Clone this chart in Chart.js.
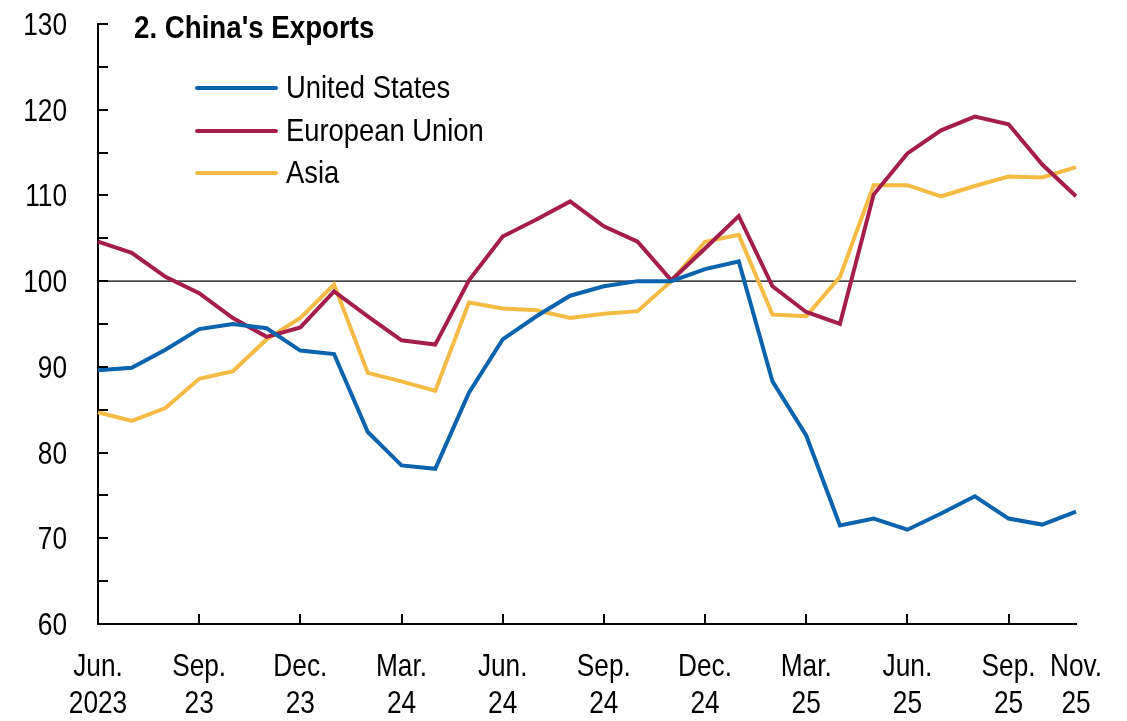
<!DOCTYPE html>
<html>
<head>
<meta charset="utf-8">
<script src="https://cdn.jsdelivr.net/npm/chart.js@4"></script>
<style>
  body { margin: 0; background: #fff; }
  #wrap { position: relative; width: 1127px; height: 721px; }
  #chart { position: absolute; left: 0; top: 0; }
  .title {
    position: absolute; left: 134px; top: 9px; line-height: 32px;
    font: bold 32px "Liberation Sans", Arial, sans-serif;
    color: #000; white-space: nowrap;
    transform: scaleX(0.865); transform-origin: left center;
  }
  .legend { position: absolute; left: 195px; top: 67px; }
  .legend .row { height: 42.5px; display: flex; align-items: center; }
  .legend .swatch { width: 83px; height: 4px; border-radius: 2px; margin-right: 8px; flex: none; }
  .legend .txt {
    font: 32px "Liberation Sans", Arial, sans-serif; line-height: 32px;
    color: #000; white-space: nowrap; position: relative; top: -1px;
    transform: scaleX(0.855); transform-origin: left center;
  }
</style>
</head>
<body>
<div id="wrap">
  <canvas id="chart" width="1127" height="721"></canvas>
  <div class="title">2. China's Exports</div>
  <div class="legend" id="legend"></div>
</div>
<script>
var FONT = '32px "Liberation Sans", Arial, sans-serif';
var NARROW = 0.82; // fake Arial Narrow

// monthly, Jun. 2023 - Nov. 2025
var categories = [
  "Jun. 2023", "Jul. 23", "Aug. 23", "Sep. 23", "Oct. 23", "Nov. 23",
  "Dec. 23", "Jan. 24", "Feb. 24", "Mar. 24", "Apr. 24", "May 24",
  "Jun. 24", "Jul. 24", "Aug. 24", "Sep. 24", "Oct. 24", "Nov. 24",
  "Dec. 24", "Jan. 25", "Feb. 25", "Mar. 25", "Apr. 25", "May 25",
  "Jun. 25", "Jul. 25", "Aug. 25", "Sep. 25", "Oct. 25", "Nov. 25"
];
var labelledMonths = [
  "Jun. 2023", "Sep. 23", "Dec. 23", "Mar. 24", "Jun. 24", "Sep. 24",
  "Dec. 24", "Mar. 25", "Jun. 25", "Sep. 25", "Nov. 25"
];
var tickMarkMonths = [
  "Sep. 23", "Dec. 23", "Mar. 24", "Jun. 24", "Sep. 24",
  "Dec. 24", "Mar. 25", "Jun. 25", "Sep. 25"
];

var unitedStates = [
  89.6, 89.9, 92.0, 94.4, 95.0, 94.5, 91.9, 91.5, 82.4, 78.5, 78.1, 87.0,
  93.2, 95.9, 98.3, 99.4, 100.0, 100.0, 101.4, 102.3, 88.3, 82.0, 71.5, 72.3,
  71.0, 72.9, 74.9, 72.3, 71.6, 73.1
];
var europeanUnion = [
  104.6, 103.3, 100.5, 98.6, 95.7, 93.5, 94.6, 98.8, 95.9, 93.1, 92.6, 100.1,
  105.2, 107.2, 109.3, 106.4, 104.6, 100.1, 103.8, 107.6, 99.4, 96.4, 95.0, 110.1,
  114.9, 117.6, 119.2, 118.3, 113.6, 109.9
];
var asia = [
  84.7, 83.7, 85.2, 88.6, 89.5, 93.2, 95.7, 99.6, 89.3, 88.3, 87.2, 97.5,
  96.8, 96.6, 95.7, 96.2, 96.5, 100.0, 104.6, 105.4, 96.1, 95.9, 100.5, 111.2,
  111.2, 109.9, 111.1, 112.2, 112.1, 113.3
];

var seriesNames = ["United States", "European Union", "Asia"];
var seriesColors = ["#0a63ad", "#a51d4b", "#f6bb45"];
var yMin = 60, yMax = 130, yStep = 5, yLabelStep = 10, refValue = 100;

function narrowText(ctx, text, x, y, align) {
  ctx.save();
  ctx.translate(x, y);
  ctx.scale(NARROW, 1);
  ctx.textAlign = align;
  ctx.textBaseline = "alphabetic";
  ctx.fillText(text, 0, 0);
  ctx.restore();
}

// inward tick marks, narrow tick labels, 100 reference line
var axisMarks = {
  id: "axisMarks",
  beforeDatasetsDraw: function (chart) {
    var ctx = chart.ctx, a = chart.chartArea;
    var y = chart.scales.y.getPixelForValue(refValue);
    ctx.save();
    ctx.strokeStyle = "#000";
    ctx.lineWidth = 1.3;
    ctx.beginPath();
    ctx.moveTo(a.left, y);
    ctx.lineTo(a.right, y);
    ctx.stroke();
    ctx.restore();
  },
  afterDraw: function (chart) {
    var ctx = chart.ctx, a = chart.chartArea;
    var ys = chart.scales.y, xs = chart.scales.x;
    ctx.save();
    ctx.strokeStyle = "#000";
    ctx.lineWidth = 2;
    ctx.beginPath();
    for (var v = yMin; v <= yMax; v += yStep) {
      var py = Math.round(ys.getPixelForValue(v));
      ctx.moveTo(a.left, py);
      ctx.lineTo(a.left + 10, py);
    }
    tickMarkMonths.forEach(function (m) {
      var px = Math.round(xs.getPixelForValue(categories.indexOf(m)));
      ctx.moveTo(px, a.bottom);
      ctx.lineTo(px, a.bottom - 10);
    });
    ctx.stroke();

    ctx.fillStyle = "#000";
    ctx.font = FONT;
    for (var t = yMin; t <= yMax; t += yLabelStep) {
      narrowText(ctx, String(t), a.left - 31, ys.getPixelForValue(t) + 11, "right");
    }
    labelledMonths.forEach(function (m) {
      var px = xs.getPixelForValue(categories.indexOf(m));
      var parts = m.split(" ");
      narrowText(ctx, parts[0], px, a.bottom + 52, "center");
      narrowText(ctx, parts[1], px, a.bottom + 89, "center");
    });
    ctx.restore();
  }
};

var datasets = [unitedStates, europeanUnion, asia].map(function (vals, i) {
  return {
    label: seriesNames[i],
    data: vals,
    borderColor: seriesColors[i],
    backgroundColor: seriesColors[i],
    borderWidth: 4,
    pointRadius: 0,
    tension: 0,
    fill: false
  };
});

var chart = new Chart(document.getElementById("chart").getContext("2d"), {
  type: "line",
  data: { labels: categories, datasets: datasets },
  plugins: [axisMarks],
  options: {
    responsive: false,
    animation: false,
    layout: { padding: { left: 0, top: 24, right: 51, bottom: 0 } },
    plugins: {
      legend: { display: false },
      title: { display: false },
      tooltip: { enabled: false }
    },
    scales: {
      x: {
        offset: false,
        grid: { display: false, drawTicks: false },
        border: { display: true, color: "#000", width: 2 },
        afterFit: function (scale) { scale.height = 97; },
        ticks: { display: false, autoSkip: false }
      },
      y: {
        min: yMin,
        max: yMax,
        grid: { display: false, drawTicks: false },
        border: { display: true, color: "#000", width: 2 },
        afterFit: function (scale) { scale.width = 98; },
        ticks: { display: false, stepSize: yStep }
      }
    }
  }
});

var legend = document.getElementById("legend");
chart.data.datasets.forEach(function (ds) {
  var row = document.createElement("div");
  row.className = "row";
  row.innerHTML = '<div class="swatch" style="background:' + ds.borderColor +
    '"></div><div class="txt">' + ds.label + "</div>";
  legend.appendChild(row);
});
</script>
</body>
</html>
